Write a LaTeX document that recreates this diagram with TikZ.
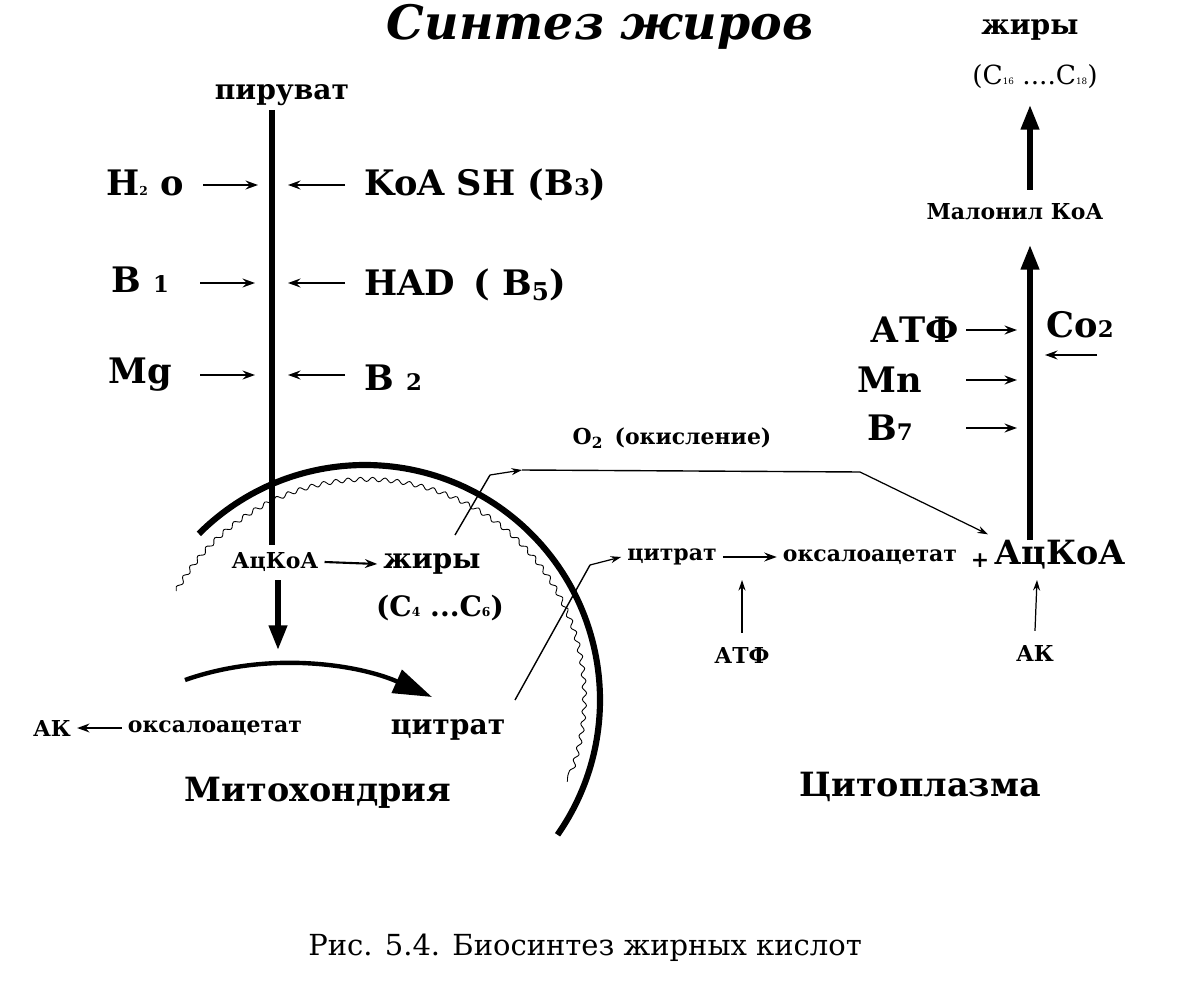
\documentclass[tikz,border=0pt]{standalone}
\usepackage{fontspec}
\setmainfont{DejaVu Serif}
\newfontfamily\serf{DejaVu Serif}
\usetikzlibrary{arrows.meta,decorations.pathmorphing}
\begin{document}
\begin{tikzpicture}[x=0.02cm,y=0.02cm,
  every node/.style={font=\serf},
  big/.style={font=\serf\fontsize{20}{22}\selectfont\bfseries},
  mid/.style={font=\serf\fontsize{16}{18}\selectfont\bfseries},
  sm/.style={font=\serf\fontsize{12.5}{14}\selectfont\bfseries},
  arr/.style={-{Stealth[length=7pt,width=5pt]},line width=1.2pt},
  thin/.style={-{Stealth[length=6pt,width=4pt]},line width=0.7pt},
  thick/.style={-{Triangle[length=14pt,width=10pt]},line width=3pt}]
\useasboundingbox (0,0) rectangle (1200,985);
% title
\node[font=\serf\fontsize{27}{30}\selectfont\bfseries\itshape] (title) at (600,958) {Синтез жиров};
% pyruvate column
\node[mid] (pyr) at (282,890) {пируват};
\coordinate (pt) at (272,875); \coordinate (pb) at (272,440);
\draw[line width=3pt] (pt) -- (pb);
\node[big] (h2o) at (145,802) {H{\scriptsize 2} o};
\node[big,anchor=west] (koa) at (358,800) {KoA SH (B{\fontsize{13}{13}\selectfont 3})};
\node[big] (b1) at (140,705) {B {\fontsize{13}{13}\selectfont 1}};
\node[big,anchor=west] (had) at (358,700) {HAD \,( B\textsubscript{5})};
\node[big] (mg) at (140,610) {Mg};
\node[big,anchor=west] (b2) at (358,607) {B {\fontsize{13}{13}\selectfont 2}};
\coordinate (la1) at (258,800); \coordinate (ra1) at (288,800);
\coordinate (la2) at (255,702); \coordinate (ra2) at (288,702);
\coordinate (la3) at (255,610); \coordinate (ra3) at (288,610);
\draw[arr] (203,800) -- (la1);
\draw[arr] (345,800) -- (ra1);
\draw[arr] (200,702) -- (la2);
\draw[arr] (345,702) -- (ra2);
\draw[arr] (200,610) -- (la3);
\draw[arr] (345,610) -- (ra3);
% mitochondrion membrane
\draw[line width=3.5pt] (365,285) ++(135:235) arc (135:-35:235);
\draw[line width=0.5pt,decorate,decoration={snake,amplitude=1.2pt,segment length=7pt}] (365,285) ++(150:218) arc (150:-22:218);
% inside mitochondrion
\node[sm] (ackoa1) at (275,423) {АцКоА};
\node[mid] (fat1) at (432,421) {жиры};
\node[mid] (c4) at (440,377) {(C{\scriptsize 4} ...C{\scriptsize 6})};
\draw[arr] (ackoa1.east) -- (fat1.west);
\coordinate (dn) at (278,335);
\draw[thick] (278,405) -- (dn);
\coordinate (cs) at (185,305); \coordinate (ce) at (432,288);
\draw[line width=2.5pt,-{Triangle[length=22pt,width=14pt]}] (cs) .. controls (270,335) and (360,320) .. (ce);
\node[sm] (ak1) at (52,257) {АК};
\node[sm] (oxa1) at (215,257) {оксалоацетат};
\draw[arr] (oxa1.west) -- (ak1.east);
\node[mid] (cit1) at (448,255) {цитрат};
\node[font=\serf\fontsize{19}{22}\selectfont\bfseries] (mito) at (318,192) {Митохондрия};
\node[font=\serf\fontsize{19}{22}\selectfont\bfseries] (cyto) at (920,198) {Цитоплазма};
% cytoplasm row
\node[sm] (cit2) at (672,428) {цитрат};
\node[sm] (oxa2) at (870,428) {оксалоацетат};
\node[sm] (plus) at (980,424) {+};
\node[font=\serf\fontsize{19}{22}\selectfont\bfseries] (ackoa2) at (1060,430) {АцКоА};
\draw[arr] (cit2.east) -- (oxa2.west);
\coordinate (cb) at (515,285); \coordinate (ck) at (590,420);
\draw[line width=0.8pt] (cb) -- (ck);
\draw[thin] (ck) -- (cit2.west);
\node[sm] (atf1) at (742,330) {АТФ};
\draw[thin] (atf1.north)++(0,8) -- (742,405);
\node[sm] (ak2) at (1035,332) {АК};
\draw[thin] (ak2.north)++(0,8) -- (1037,405);
% O2 path
\node[sm] (o2) at (672,547) {O\textsubscript{2} \,(окисление)};
\coordinate (m1) at (455,450); \coordinate (m2) at (490,510); \coordinate (m3) at (522,515);
\coordinate (m4) at (860,513);
\draw[line width=0.8pt] (m1) -- (m2);
\draw[thin] (m2) -- (m3);
\draw[line width=0.8pt] (m3) -- (m4);
\draw[thin] (m4) -- (ackoa2.north west);
% right column
\draw[thick] (1030,445) -- (1030,740);
\node[sm] (mal) at (1015,773) {Малонил КоА};
\draw[thick] (1030,795) -- (1030,880);
\node[mid] (fat2) at (1030,955) {жиры};
\node[font=\serf\fontsize{15}{18}\selectfont] (c16) at (1035,908) {(C{\tiny 16} ....C{\tiny 18})};
\node[big] (atf2) at (915,655) {АТФ};
\node[big] (co2) at (1080,660) {Co{\fontsize{13}{13}\selectfont 2}};
\node[big] (mn) at (890,605) {Mn};
\node[big] (b7) at (890,557) {B{\fontsize{13}{13}\selectfont 7}};
\draw[arr] (966,655) -- (1017,655);
\draw[arr] (1097,630) -- (1045,630);
\draw[arr] (966,605) -- (1017,605);
\draw[arr] (966,557) -- (1017,557);
% caption
\node[font=\serf\fontsize{16.5}{20}\selectfont] (cap) at (585,37) {Рис. 5.4. Биосинтез жирных кислот};
\end{tikzpicture}
\end{document}
